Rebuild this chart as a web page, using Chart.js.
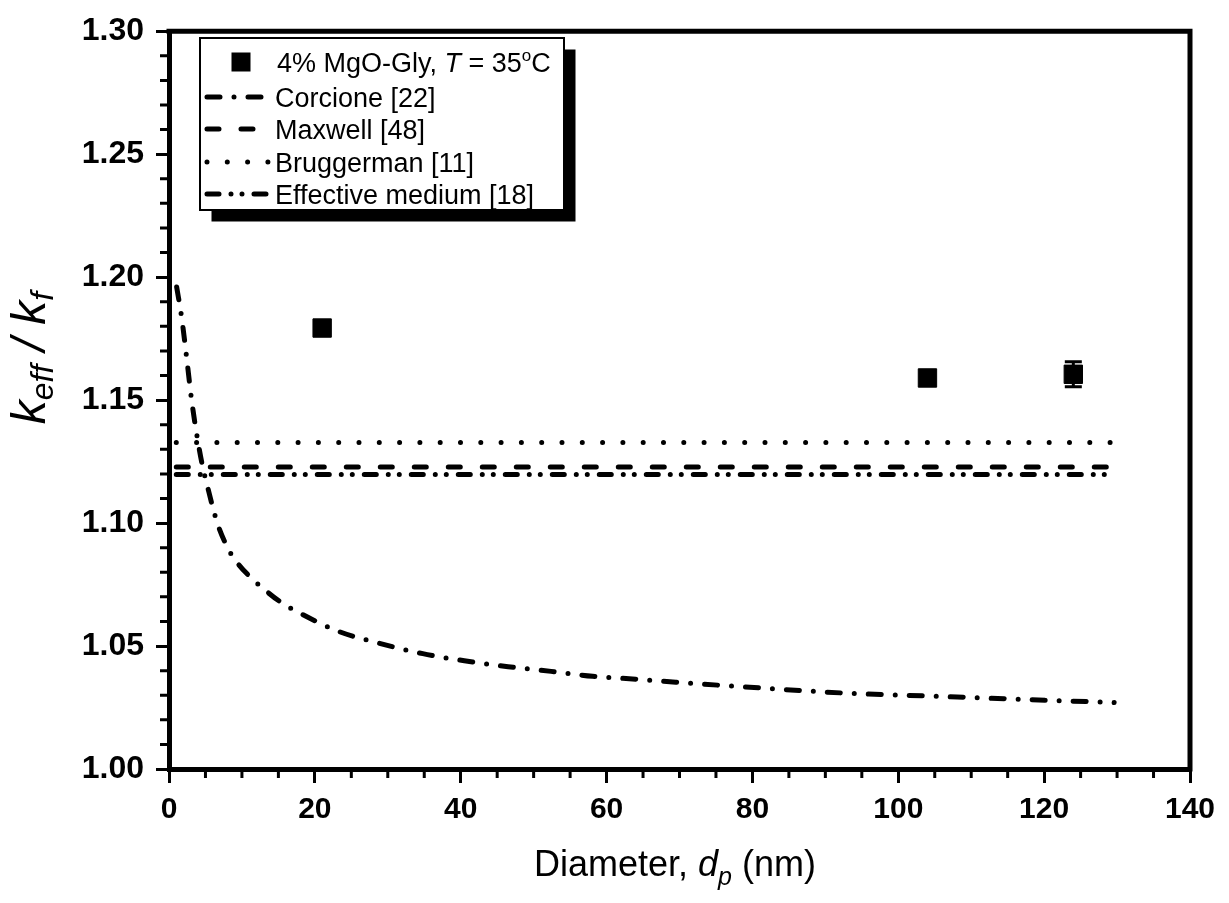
<!DOCTYPE html>
<html>
<head>
<meta charset="utf-8">
<script src="https://cdn.jsdelivr.net/npm/chart.js@4.4.0/dist/chart.umd.min.js"></script>
<style>
    html, body { margin: 0; padding: 0; background: #fff; }
    #wrap { width: 1229px; height: 903px; }
</style>
</head>
<body>
<div id="wrap"><canvas id="chart" width="1229" height="903"></canvas></div>
<script>
// measured data, 4% MgO-Gly at 35 C
const expD = [21, 104, 124];
const expK = [1.1793, 1.1590, 1.1605];
const expErr = [0.0015, 0.0015, 0.0051];

// Corcione correlation
const corD = [1.05, 1.74, 2.42, 3.11, 4.01, 4.70, 5.16, 6.07, 6.75, 8.12, 9.27, 11.33, 13.15, 15.2, 18.2,
    23.4, 29.4, 34.8, 40.5, 46.5, 52.4, 58.1, 64.1, 69.5, 81.3, 93.1, 104.7, 116.2, 129.6];
const corK = [1.1960, 1.1835, 1.1672, 1.1498, 1.1324, 1.1217, 1.1163, 1.1056, 1.0989, 1.0895, 1.0842, 1.0775, 1.0728, 1.0681, 1.0630,
    1.0558, 1.0507, 1.0469, 1.0440, 1.0416, 1.0397, 1.0377, 1.0365, 1.0353, 1.0329, 1.0308, 1.0296, 1.0284, 1.0270];

// flat models
const flatD = [1, 129.5];
const maxwellK = [1.1228, 1.1228];
const bruggK = [1.1328, 1.1328];
const effK = [1.1197, 1.1197];

const labels = ["4% MgO-Gly", "Corcione [22]", "Maxwell [48]", "Bruggerman [11]", "Effective medium [18]"];

const FONT = "'Liberation Sans', Arial, sans-serif";

function pts(xs, ys) {
    let out = [];
    for (let i = 0; i < xs.length; i++) {
        out.push({x: xs[i], y: ys[i]});
    }
    return out;
}

function lineSet(label, xs, ys, dash) {
    return {
        label: label,
        data: pts(xs, ys),
        borderColor: "#000",
        backgroundColor: "#000",
        borderWidth: 5,
        borderDash: dash,
        borderCapStyle: "round",
        pointRadius: 0,
        cubicInterpolationMode: "monotone",
        fill: false
    };
}

// draws text pieces with mixed fonts, centred on x
function richText(ctx, parts, x, y) {
    let total = 0;
    for (const p of parts) {
        ctx.font = p.font;
        total += ctx.measureText(p.t).width;
    }
    let cx = x - total / 2;
    for (const p of parts) {
        ctx.font = p.font;
        ctx.fillText(p.t, cx, y + (p.dy || 0));
        cx += ctx.measureText(p.t).width;
    }
}

function richTextLeft(ctx, parts, x, y) {
    let cx = x;
    for (const p of parts) {
        ctx.font = p.font;
        ctx.fillText(p.t, cx, y + (p.dy || 0));
        cx += ctx.measureText(p.t).width;
    }
}

const errorBars = {
    id: "errorBars",
    afterDatasetsDraw(chart) {
        const ctx = chart.ctx;
        const xs = chart.scales.x, ys = chart.scales.y;
        ctx.save();
        ctx.strokeStyle = "#000";
        ctx.lineWidth = 3;
        for (let i = 0; i < expD.length; i++) {
            const px = xs.getPixelForValue(expD[i]);
            const top = ys.getPixelForValue(expK[i] + expErr[i]);
            const bot = ys.getPixelForValue(expK[i] - expErr[i]);
            ctx.beginPath();
            ctx.moveTo(px, top); ctx.lineTo(px, bot);
            ctx.moveTo(px - 8.5, top); ctx.lineTo(px + 8.5, top);
            ctx.moveTo(px - 8.5, bot); ctx.lineTo(px + 8.5, bot);
            ctx.stroke();
        }
        ctx.restore();
    }
};

const decorations = {
    id: "decorations",
    afterDraw(chart) {
        const ctx = chart.ctx;
        const a = chart.chartArea;
        const xs = chart.scales.x, ys = chart.scales.y;
        ctx.save();
        ctx.strokeStyle = "#000";
        ctx.fillStyle = "#000";

        // top and right frame
        ctx.lineWidth = 5;
        ctx.beginPath();
        ctx.moveTo(a.left - 2.5, a.top);
        ctx.lineTo(a.right, a.top);
        ctx.lineTo(a.right, a.bottom + 2.5);
        ctx.stroke();

        // minor ticks
        ctx.lineWidth = 3;
        ctx.beginPath();
        for (let i = 0; i <= 30; i++) {
            if (i % 5 === 0) continue;
            const py = ys.getPixelForValue(1 + i * 0.01);
            ctx.moveTo(a.left - 2, py); ctx.lineTo(a.left - 9, py);
        }
        for (let v = 5; v < 140; v += 5) {
            if (v % 20 === 0) continue;
            const px = xs.getPixelForValue(v);
            ctx.moveTo(px, a.bottom + 2); ctx.lineTo(px, a.bottom + 9);
        }
        ctx.stroke();

        // axis titles
        ctx.textBaseline = "alphabetic";
        richText(ctx, [
            {t: "Diameter, ", font: "36px " + FONT},
            {t: "d", font: "italic 36px " + FONT},
            {t: "p", font: "italic 25px " + FONT, dy: 9},
            {t: " (nm)", font: "36px " + FONT}
        ], 675, 876);

        ctx.save();
        ctx.translate(45, 358);
        ctx.rotate(-Math.PI / 2);
        richText(ctx, [
            {t: "k", font: "italic 48px " + FONT},
            {t: "eff", font: "italic 32px " + FONT, dy: 8},
            {t: " / ", font: "italic 48px " + FONT},
            {t: "k", font: "italic 48px " + FONT},
            {t: "f", font: "italic 32px " + FONT, dy: 8}
        ], 0, 0);
        ctx.restore();

        // legend box with shadow
        const bx = 200, by = 38, bw = 364, bh = 172;
        ctx.fillStyle = "#000";
        ctx.fillRect(bx + 11.5, by + 11.5, bw, bh);
        ctx.fillStyle = "#fff";
        ctx.fillRect(bx, by, bw, bh);
        ctx.lineWidth = 2;
        ctx.strokeRect(bx, by, bw, bh);

        const rows = [72, 107, 139, 172, 204];
        ctx.fillStyle = "#000";
        ctx.fillRect(241 - 9.5, rows[0] - 10 - 9.5, 19, 19);
        richTextLeft(ctx, [
            {t: labels[0] + ", ", font: "27px " + FONT},
            {t: "T", font: "italic 27px " + FONT},
            {t: " = 35", font: "27px " + FONT},
            {t: "o", font: "17px " + FONT, dy: -11},
            {t: "C", font: "27px " + FONT}
        ], 277, rows[0]);

        const sets = chart.data.datasets;
        for (let i = 1; i < 5; i++) {
            const y = rows[i] - 10;
            ctx.save();
            ctx.lineWidth = 5;
            ctx.lineCap = "round";
            ctx.setLineDash(sets[i].borderDash);
            ctx.beginPath();
            ctx.moveTo(207, y); ctx.lineTo(270, y);
            ctx.stroke();
            ctx.restore();
            ctx.font = "27px " + FONT;
            ctx.fillText(labels[i], 275, rows[i]);
        }
        ctx.restore();
    }
};

window.addEventListener("DOMContentLoaded", () => {
    new Chart(document.getElementById("chart"), {
        type: "line",
        data: {
            datasets: [
                {
                    label: labels[0],
                    data: pts(expD, expK),
                    showLine: false,
                    pointStyle: "rect",
                    pointRadius: 13,
                    pointBorderWidth: 1,
                    borderColor: "#000",
                    backgroundColor: "#000"
                },
                lineSet(labels[1], corD, corK, [13, 14, 0, 14]),
                lineSet(labels[2], flatD, maxwellK, [12, 22]),
                lineSet(labels[3], flatD, bruggK, [0, 20.3]),
                lineSet(labels[4], flatD, effK, [12, 12, 0, 11, 0, 12])
            ]
        },
        options: {
            responsive: false,
            animation: false,
            devicePixelRatio: 1,
            layout: {padding: {top: 23, right: 39, left: 0, bottom: 0}},
            plugins: {legend: {display: false}, tooltip: {enabled: false}},
            scales: {
                x: {
                    type: "linear",
                    min: 0,
                    max: 140,
                    ticks: {stepSize: 20, color: "#000", padding: 9, font: {family: FONT, size: 30, weight: "bold"}},
                    grid: {drawOnChartArea: false, drawTicks: true, tickLength: 14, lineWidth: 3, color: "#000"},
                    border: {display: true, width: 5, color: "#000"},
                    afterFit: s => { s.height = 134; }
                },
                y: {
                    min: 1.0,
                    max: 1.3,
                    ticks: {stepSize: 0.05, color: "#000", padding: 12, font: {family: FONT, size: 32, weight: "bold"},
                        callback: v => v.toFixed(2)},
                    grid: {drawOnChartArea: false, drawTicks: true, tickLength: 13, lineWidth: 3, color: "#000"},
                    border: {display: true, width: 5, color: "#000"},
                    afterFit: s => { s.width = 169; }
                }
            }
        },
        plugins: [errorBars, decorations]
    });
});
</script>
</body>
</html>
